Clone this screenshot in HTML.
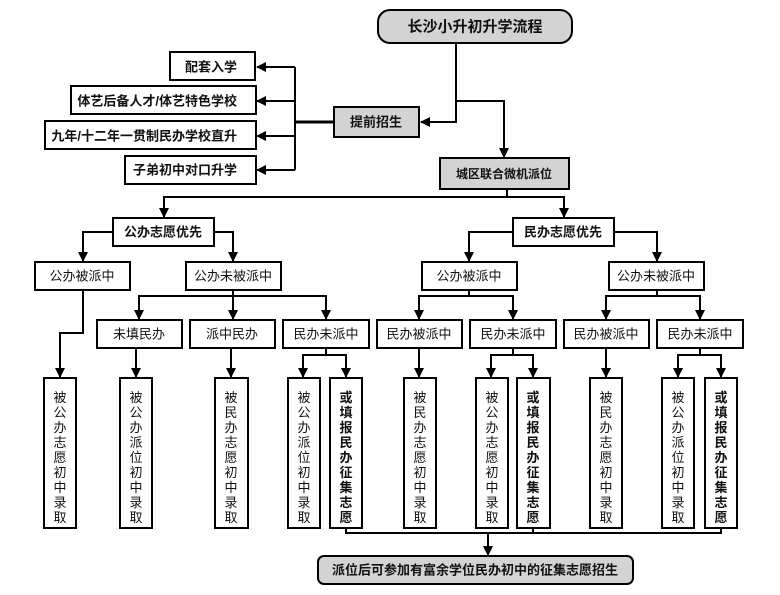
<!DOCTYPE html>
<html><head><meta charset="utf-8"><style>
html,body{margin:0;padding:0;background:#fff;}
svg text{font-family:"Liberation Sans","Noto Sans CJK SC",sans-serif;fill:#111;}
.b{font-weight:bold;}
</style></head><body>
<svg width="780" height="590" viewBox="0 0 780 590" xmlns="http://www.w3.org/2000/svg">
<defs>
<marker id="a" markerWidth="10" markerHeight="10" refX="9" refY="5" orient="auto" markerUnits="userSpaceOnUse">
<path d="M0,0 L10,5 L0,10 z" fill="#000"/></marker>
</defs>
<g fill="none" stroke="#000" stroke-width="2">
<polyline points="456,43 456,122 421,122" marker-end="url(#a)"/>
<polyline points="456,101 504,101 504,157" marker-end="url(#a)"/>
<line x1="334" y1="122" x2="295" y2="122" stroke-width="3"/>
<line x1="295" y1="67" x2="295" y2="170"/>
<line x1="295" y1="67" x2="257" y2="67" marker-end="url(#a)"/>
<line x1="295" y1="101" x2="257" y2="101" marker-end="url(#a)"/>
<line x1="295" y1="136" x2="257" y2="136" marker-end="url(#a)"/>
<line x1="295" y1="170" x2="257" y2="170" marker-end="url(#a)"/>
<polyline points="507,189 507,197 164,197 164,217" marker-end="url(#a)"/>
<polyline points="507,197 564,197 564,217" marker-end="url(#a)"/>
<polyline points="113,232 83,232 83,261" marker-end="url(#a)"/>
<polyline points="214,232 233,232 233,261" marker-end="url(#a)"/>
<polyline points="513,232 469,232 469,261" marker-end="url(#a)"/>
<polyline points="614,232 657,232 657,261" marker-end="url(#a)"/>
<line x1="233" y1="290" x2="233" y2="296"/>
<polyline points="139,310 139,296 326,296 326,310"/>
<line x1="139" y1="305" x2="139" y2="319" marker-end="url(#a)"/>
<line x1="233" y1="296" x2="233" y2="319" marker-end="url(#a)"/>
<line x1="326" y1="305" x2="326" y2="319" marker-end="url(#a)"/>
<line x1="469" y1="290" x2="469" y2="296"/>
<polyline points="419,310 419,296 513,296 513,310"/>
<line x1="419" y1="305" x2="419" y2="319" marker-end="url(#a)"/>
<line x1="513" y1="305" x2="513" y2="319" marker-end="url(#a)"/>
<line x1="657" y1="290" x2="657" y2="296"/>
<polyline points="606,310 606,296 700,296 700,310"/>
<line x1="606" y1="305" x2="606" y2="319" marker-end="url(#a)"/>
<line x1="700" y1="305" x2="700" y2="319" marker-end="url(#a)"/>
<polyline points="83,290 83,333 60,333 60,377" marker-end="url(#a)"/>
<line x1="136" y1="348" x2="136" y2="377" marker-end="url(#a)"/>
<line x1="231" y1="348" x2="231" y2="377" marker-end="url(#a)"/>
<line x1="419" y1="348" x2="419" y2="377" marker-end="url(#a)"/>
<line x1="606" y1="348" x2="606" y2="377" marker-end="url(#a)"/>
<line x1="326" y1="348" x2="326" y2="355"/>
<polyline points="303,365 303,355 346,355 346,365"/>
<line x1="303" y1="362" x2="303" y2="377" marker-end="url(#a)"/>
<line x1="346" y1="362" x2="346" y2="377" marker-end="url(#a)"/>
<line x1="513" y1="348" x2="513" y2="355"/>
<polyline points="491,365 491,355 533,355 533,365"/>
<line x1="491" y1="362" x2="491" y2="377" marker-end="url(#a)"/>
<line x1="533" y1="362" x2="533" y2="377" marker-end="url(#a)"/>
<line x1="700" y1="348" x2="700" y2="355"/>
<polyline points="678,365 678,355 721,355 721,365"/>
<line x1="678" y1="362" x2="678" y2="377" marker-end="url(#a)"/>
<line x1="721" y1="362" x2="721" y2="377" marker-end="url(#a)"/>
<polyline points="346,528 346,533 721,533 721,528"/>
<line x1="533" y1="528" x2="533" y2="533"/>
<line x1="488" y1="533" x2="488" y2="555" marker-end="url(#a)"/>
</g>
<g stroke="#000" stroke-width="2">
<rect x="378" y="10" width="194" height="33" rx="12" fill="#d3d3d3"/>
<rect x="334" y="107" width="85" height="30" fill="#d3d3d3"/>
<rect x="440" y="158" width="129" height="31" fill="#d3d3d3"/>
<rect x="318" y="556" width="315" height="28" rx="6" fill="#d3d3d3"/>
<g fill="#fff">
<rect x="170" y="52" width="85" height="28"/>
<rect x="71" y="86" width="185" height="28"/>
<rect x="45" y="121" width="211" height="28"/>
<rect x="125" y="156" width="131" height="28"/>
<rect x="113" y="218" width="101" height="28"/>
<rect x="513" y="218" width="101" height="28"/>
<rect x="35" y="262" width="95" height="28"/>
<rect x="186" y="262" width="95" height="28"/>
<rect x="422" y="262" width="95" height="28"/>
<rect x="609" y="262" width="95" height="28"/>
<rect x="97" y="320" width="85" height="28"/>
<rect x="190" y="320" width="85" height="28"/>
<rect x="283" y="320" width="86" height="28"/>
<rect x="377" y="320" width="85" height="28"/>
<rect x="470" y="320" width="86" height="28"/>
<rect x="564" y="320" width="85" height="28"/>
<rect x="657" y="320" width="86" height="28"/>
<rect x="44" y="378" width="32" height="150"/>
<rect x="120" y="378" width="32" height="150"/>
<rect x="215" y="378" width="33" height="150"/>
<rect x="288" y="378" width="32" height="150"/>
<rect x="330" y="378" width="32" height="150"/>
<rect x="404" y="378" width="32" height="150"/>
<rect x="476" y="378" width="32" height="150"/>
<rect x="517" y="378" width="33" height="150"/>
<rect x="590" y="378" width="32" height="150"/>
<rect x="662" y="378" width="32" height="150"/>
<rect x="705" y="378" width="32" height="150"/>
</g>
</g>
<g dominant-baseline="central">
<text x="475" y="27" font-size="15" class="b" text-anchor="middle">长沙小升初升学流程</text>
<text x="376" y="122" font-size="13" class="b" text-anchor="middle">提前招生</text>
<text x="504" y="174" font-size="12" class="b" text-anchor="middle">城区联合微机派位</text>
<text x="237" y="67" font-size="13" class="b" text-anchor="end">配套入学</text>
<text x="237" y="101" font-size="13" class="b" text-anchor="end">体艺后备人才/体艺特色学校</text>
<text x="237" y="136" font-size="13" class="b" text-anchor="end">九年/十二年一贯制民办学校直升</text>
<text x="237" y="170" font-size="13" class="b" text-anchor="end">子弟初中对口升学</text>
<text x="163" y="232" font-size="13" class="b" text-anchor="middle">公办志愿优先</text>
<text x="563" y="232" font-size="13" class="b" text-anchor="middle">民办志愿优先</text>
<text x="475" y="570" font-size="13" class="b" text-anchor="middle">派位后可参加有富余学位民办初中的征集志愿招生</text>
<g font-size="13" text-anchor="middle">
<text x="82" y="276">公办被派中</text>
<text x="233" y="276">公办未被派中</text>
<text x="469" y="276">公办被派中</text>
<text x="656" y="276">公办未被派中</text>
<text x="139" y="334">未填民办</text>
<text x="232" y="334">派中民办</text>
<text x="326" y="334">民办未派中</text>
<text x="419" y="334">民办被派中</text>
<text x="513" y="334">民办未派中</text>
<text x="606" y="334">民办被派中</text>
<text x="700" y="334">民办未派中</text>
</g>
<g font-size="13" text-anchor="middle">
<text><tspan x="60" y="397">被</tspan><tspan x="60" y="412">公</tspan><tspan x="60" y="427">办</tspan><tspan x="60" y="442">志</tspan><tspan x="60" y="457">愿</tspan><tspan x="60" y="472">初</tspan><tspan x="60" y="487">中</tspan><tspan x="60" y="502">录</tspan><tspan x="60" y="517">取</tspan></text>
<text><tspan x="136" y="397">被</tspan><tspan x="136" y="412">公</tspan><tspan x="136" y="427">办</tspan><tspan x="136" y="442">派</tspan><tspan x="136" y="457">位</tspan><tspan x="136" y="472">初</tspan><tspan x="136" y="487">中</tspan><tspan x="136" y="502">录</tspan><tspan x="136" y="517">取</tspan></text>
<text><tspan x="231" y="397">被</tspan><tspan x="231" y="412">民</tspan><tspan x="231" y="427">办</tspan><tspan x="231" y="442">志</tspan><tspan x="231" y="457">愿</tspan><tspan x="231" y="472">初</tspan><tspan x="231" y="487">中</tspan><tspan x="231" y="502">录</tspan><tspan x="231" y="517">取</tspan></text>
<text><tspan x="304" y="397">被</tspan><tspan x="304" y="412">公</tspan><tspan x="304" y="427">办</tspan><tspan x="304" y="442">派</tspan><tspan x="304" y="457">位</tspan><tspan x="304" y="472">初</tspan><tspan x="304" y="487">中</tspan><tspan x="304" y="502">录</tspan><tspan x="304" y="517">取</tspan></text>
<text class="b"><tspan x="346" y="397">或</tspan><tspan x="346" y="412">填</tspan><tspan x="346" y="427">报</tspan><tspan x="346" y="442">民</tspan><tspan x="346" y="457">办</tspan><tspan x="346" y="472">征</tspan><tspan x="346" y="487">集</tspan><tspan x="346" y="502">志</tspan><tspan x="346" y="517">愿</tspan></text>
<text><tspan x="420" y="397">被</tspan><tspan x="420" y="412">民</tspan><tspan x="420" y="427">办</tspan><tspan x="420" y="442">志</tspan><tspan x="420" y="457">愿</tspan><tspan x="420" y="472">初</tspan><tspan x="420" y="487">中</tspan><tspan x="420" y="502">录</tspan><tspan x="420" y="517">取</tspan></text>
<text><tspan x="492" y="397">被</tspan><tspan x="492" y="412">公</tspan><tspan x="492" y="427">办</tspan><tspan x="492" y="442">志</tspan><tspan x="492" y="457">愿</tspan><tspan x="492" y="472">初</tspan><tspan x="492" y="487">中</tspan><tspan x="492" y="502">录</tspan><tspan x="492" y="517">取</tspan></text>
<text class="b"><tspan x="533" y="397">或</tspan><tspan x="533" y="412">填</tspan><tspan x="533" y="427">报</tspan><tspan x="533" y="442">民</tspan><tspan x="533" y="457">办</tspan><tspan x="533" y="472">征</tspan><tspan x="533" y="487">集</tspan><tspan x="533" y="502">志</tspan><tspan x="533" y="517">愿</tspan></text>
<text><tspan x="606" y="397">被</tspan><tspan x="606" y="412">民</tspan><tspan x="606" y="427">办</tspan><tspan x="606" y="442">志</tspan><tspan x="606" y="457">愿</tspan><tspan x="606" y="472">初</tspan><tspan x="606" y="487">中</tspan><tspan x="606" y="502">录</tspan><tspan x="606" y="517">取</tspan></text>
<text><tspan x="678" y="397">被</tspan><tspan x="678" y="412">公</tspan><tspan x="678" y="427">办</tspan><tspan x="678" y="442">派</tspan><tspan x="678" y="457">位</tspan><tspan x="678" y="472">初</tspan><tspan x="678" y="487">中</tspan><tspan x="678" y="502">录</tspan><tspan x="678" y="517">取</tspan></text>
<text class="b"><tspan x="721" y="397">或</tspan><tspan x="721" y="412">填</tspan><tspan x="721" y="427">报</tspan><tspan x="721" y="442">民</tspan><tspan x="721" y="457">办</tspan><tspan x="721" y="472">征</tspan><tspan x="721" y="487">集</tspan><tspan x="721" y="502">志</tspan><tspan x="721" y="517">愿</tspan></text>
</g>
</g>
</svg>
</body></html>
